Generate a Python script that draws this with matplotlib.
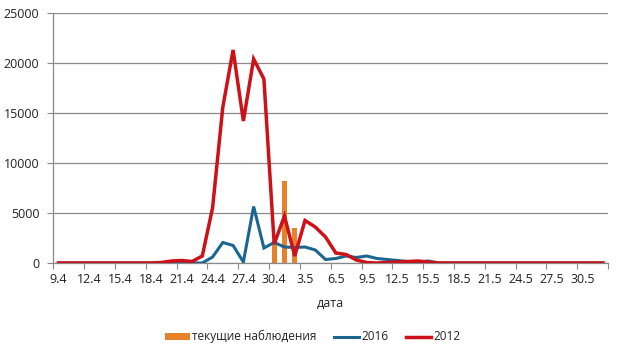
import matplotlib
matplotlib.use("Agg")
import matplotlib.pyplot as plt
import numpy as np

plt.rcParams['font.family'] = ['Open Sans', 'DejaVu Sans']

# categories: 9.4 .. 30.4, 1.5 .. 31.5, 1.6  (54 days)
dates = [f"{d}.4" for d in range(9, 31)] + [f"{d}.5" for d in range(1, 32)] + ["1.6"]

obs = [0]*54
obs[21] = 2200   # 30.4
obs[22] = 8200   # 1.5
obs[23] = 3500   # 2.5

y2016 = [0, 0, 0, 0, 0, 0, 0, 0, 0, 0,
         0, 0, 0, 0, 0, 600, 2050, 1750, 100, 5650,
         1500, 2050, 1600, 1550, 1600, 1300, 350, 450, 700, 550,
         700, 450, 350, 250, 150, 100, 200, 0, 0, 0,
         0, 0, 0, 0, 0, 0, 0, 0, 0, 0,
         0, 0, 0, 0]

y2012 = [0, 0, 0, 0, 0, 0, 0, 0, 0, 0,
         50, 200, 250, 150, 700, 5500, 15600, 21300, 14200, 20400,
         18400, 1900, 4700, 700, 4250, 3600, 2600, 1000, 850, 300,
         50, 0, 50, 100, 150, 200, 100, 0, 0, 0,
         0, 0, 0, 0, 0, 0, 0, 0, 0, 0,
         0, 0, 0, 0]

labels_obs = "текущие наблюдения"
c_obs = "#E8822A"
c16 = "#1C6591"
c12 = "#CC1118"

fig = plt.figure(figsize=(6.23, 3.57), dpi=100)
ax = fig.add_axes([0.0856, 0.2633, 0.976 - 0.0856, 0.9636 - 0.2633])

x = np.arange(len(dates))
hb = ax.bar(x, obs, width=0.45, color=c_obs, label=labels_obs, zorder=2)
h16, = ax.plot(x, y2016, color=c16, lw=2.2, label="2016", zorder=3, solid_joinstyle="miter")
h12, = ax.plot(x, y2012, color=c12, lw=2.5, label="2012", zorder=4, solid_joinstyle="miter")

ax.set_xlim(-0.5, len(dates) - 0.5)
ax.set_ylim(0, 25000)
ax.set_yticks(range(0, 25001, 5000))
ax.yaxis.grid(True, color="#8a8a8a", lw=0.9)
ax.set_axisbelow(True)

# x ticks: marks at category boundaries every 3, labels at category centers
ax.set_xticks(np.arange(-0.5, len(dates), 3))
ax.tick_params(axis="x", which="major", length=4, color="#8a8a8a", labelbottom=False)
ax.set_xticks(np.arange(0, len(dates), 3), minor=True)
ax.set_xticklabels([dates[i] for i in range(0, len(dates), 3)], minor=True)
ax.tick_params(axis="x", which="minor", length=0, pad=7, labelsize=9, labelcolor="#222222")
ax.tick_params(axis="y", length=4, color="#8a8a8a", labelsize=9, labelcolor="#222222", pad=6)

for s in ["top", "right"]:
    ax.spines[s].set_visible(False)
for s in ["left", "bottom"]:
    ax.spines[s].set_color("#8a8a8a")
    ax.spines[s].set_linewidth(0.9)

ax.set_xlabel("дата", fontsize=9, color="#222222", labelpad=8)

leg = fig.legend([hb, h16, h12], [labels_obs, "2016", "2012"],
                 loc="center", bbox_to_anchor=(0.502, 0.057), ncol=3, frameon=False,
                 fontsize=8.5, handlelength=2.1, handleheight=0.5, handletextpad=0.2,
                 columnspacing=1.5)
for t in leg.get_texts():
    t.set_color("#222222")

fig.savefig("out.png", dpi=100)
